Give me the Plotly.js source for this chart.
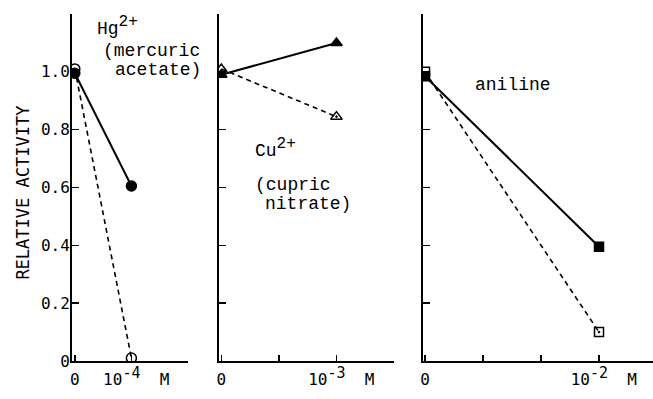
<!DOCTYPE html>
<html>
<head>
<meta charset="utf-8">
<script src="https://cdn.plot.ly/plotly-3.0.1.min.js"></script>
<style>html,body{margin:0;padding:0;background:#fff;}#chart{width:653px;height:399px;}</style>
</head>
<body>
<div id="chart"></div>
<script>
// Concentration positions (in units of the labelled tick: 1e-4, 1e-3, 1e-2 M)
const hgConc = [0, 1];
const hgSolid = [0.995, 0.605];
const hgDashed = [1.01, 0.01];

const cuConc = [0, 1];
const cuSolid = [0.99, 1.10];
const cuDashed = [1.01, 0.845];

const anConc = [0, 1];
const anSolid = [0.985, 0.395];
const anDashed = [1.0, 0.10];

const yTickVals = [0, 0.2, 0.4, 0.6, 0.8, 1.0, 1.2];
const yTickText = ["0", "0.2", "0.4", "0.6", "0.8", "1.0", ""];

const x1TickVals = [0, 1, 2];
const x1TickText = ["0", "&nbsp;10<sup><span style='font-size:15px'>-4</span></sup>&nbsp;&nbsp;M", ""];
const x2TickVals = [0, 0.5, 1, 1.5];
const x2TickText = ["0", "", "&nbsp;10<sup><span style='font-size:15px'>-3</span></sup>&nbsp;&nbsp;M", ""];
const x3TickVals = [0, 1/3, 2/3, 1];
const x3TickText = ["0", "", "", "&nbsp;10<sup><span style='font-size:15px'>-2</span></sup>&nbsp;&nbsp;M"];

const W = 653, H = 399;
const px = v => v / W;
const py = v => 1 - v / H;

const solidLine = {color: "#000", width: 2};
const dashLine = {color: "#000", width: 1.6, dash: "5px,4px"};

function series(x, y, xa, ya, line, symbols, size) {
  return {
    x: x, y: y, xaxis: xa, yaxis: ya, type: "scatter", mode: "lines+markers",
    line: line, showlegend: false, hoverinfo: "skip",
    marker: {symbol: symbols, size: size, color: "#000", line: {color: "#000", width: 1.5}}
  };
}

const data = [
  series(hgConc, hgDashed, "x", "y", dashLine, ["circle-open", "circle-open"], 10),
  series(hgConc, hgSolid, "x", "y", solidLine, ["circle", "circle"], 10),
  series(cuConc, cuDashed, "x2", "y2", dashLine, ["triangle-up-open", "triangle-up-open-dot"], 10),
  series(cuConc, cuSolid, "x2", "y2", solidLine, ["triangle-up", "triangle-up"], 10),
  series(anConc, anDashed, "x3", "y3", dashLine, ["square-open", "square-open-dot"], 9),
  series(anConc, anSolid, "x3", "y3", solidLine, ["square", "square"], 9)
];

const tickFont = {family: "DejaVu Sans Mono, monospace", size: 16, color: "#000"};
const monoFont = {family: "Liberation Mono, Courier New, monospace", size: 18, color: "#000"};
const yDom = [1 - 361 / H, 1 - 14 / H];

function xAxis(dom, range, tv, tt, anchor) {
  return {
    domain: [px(dom[0]), px(dom[1])], range: range, anchor: anchor,
    showline: true, linecolor: "#000", linewidth: 2, showgrid: false, zeroline: false,
    ticks: "inside", ticklen: 6, tickwidth: 1.5, tickcolor: "#000", ticklabelstandoff: 3,
    tickmode: "array", tickvals: tv, ticktext: tt, tickfont: tickFont, automargin: false
  };
}
function yAxis(anchor, labels) {
  return {
    domain: yDom, range: [0, 1.2], anchor: anchor,
    showline: true, linecolor: "#000", linewidth: 2, showgrid: false, zeroline: false,
    ticks: "inside", ticklen: 7, tickwidth: 1.5, tickcolor: "#000", ticklabelstandoff: -3,
    tickmode: "array", tickvals: yTickVals, ticktext: labels ? yTickText : yTickVals.map(() => ""),
    showticklabels: labels, tickfont: tickFont, automargin: false
  };
}

const y1 = yAxis("x", true);
y1.title = {text: "RELATIVE ACTIVITY&nbsp;", font: {family: "DejaVu Sans Mono, monospace", size: 17, color: "#000"}, standoff: 7};

const supHg = "Hg<sup><span style='font-size:16px'>2+</span></sup>";
const supCu = "Cu<sup><span style='font-size:16px'>2+</span></sup>";

const layout = {
  width: W, height: H,
  margin: {l: 0, r: 0, t: 0, b: 0},
  paper_bgcolor: "#fff", plot_bgcolor: "#fff",
  showlegend: false,
  xaxis: xAxis([72, 188], [-0.05, 2.0], x1TickVals, x1TickText, "y"),
  xaxis2: xAxis([219, 394], [-0.02, 1.5], x2TickVals, x2TickText, "y2"),
  xaxis3: xAxis([423, 653], [-0.0115, 1.3103], x3TickVals, x3TickText, "y3"),
  yaxis: y1,
  yaxis2: yAxis("x2", false),
  yaxis3: yAxis("x3", false),
  annotations: [
    {text: supHg, x: px(95), y: py(26), xref: "paper", yref: "paper", xanchor: "left", yanchor: "middle", showarrow: false, font: monoFont},
    {text: "(mercuric", x: px(101), y: py(51), xref: "paper", yref: "paper", xanchor: "left", yanchor: "middle", showarrow: false, font: monoFont},
    {text: "acetate)", x: px(113), y: py(70), xref: "paper", yref: "paper", xanchor: "left", yanchor: "middle", showarrow: false, font: monoFont},
    {text: supCu, x: px(253), y: py(148), xref: "paper", yref: "paper", xanchor: "left", yanchor: "middle", showarrow: false, font: monoFont},
    {text: "(cupric", x: px(253), y: py(185), xref: "paper", yref: "paper", xanchor: "left", yanchor: "middle", showarrow: false, font: monoFont},
    {text: "nitrate)", x: px(263), y: py(204), xref: "paper", yref: "paper", xanchor: "left", yanchor: "middle", showarrow: false, font: monoFont},
    {text: "aniline", x: px(473), y: py(85), xref: "paper", yref: "paper", xanchor: "left", yanchor: "middle", showarrow: false, font: monoFont}
  ]
};

Plotly.newPlot("chart", data, layout, {staticPlot: true, displayModeBar: false});
</script>
</body>
</html>
